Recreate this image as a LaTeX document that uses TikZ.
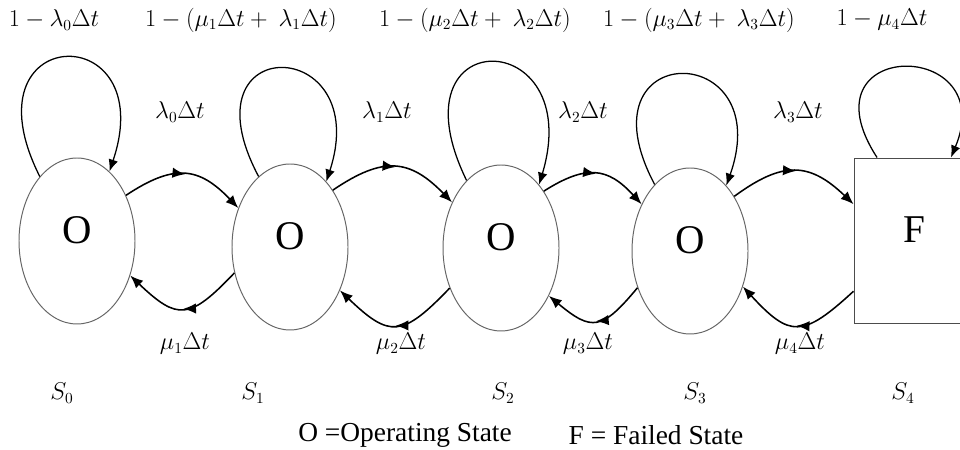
\documentclass[tikz,border=0pt]{standalone}
\usepackage{fontspec}
\setmainfont{Liberation Serif}
\usetikzlibrary{shapes.geometric, arrows.meta, decorations.markings}
\tikzstyle{opstate}=[ellipse, draw=black!60, line width=0.7pt, inner sep=0pt, minimum width=29mm, minimum height=41.5mm, text depth=5.5mm, font=\fontsize{29}{32}\selectfont]
\tikzstyle{failstate}=[rectangle, draw=black!70, line width=0.7pt, inner sep=0pt, minimum width=30mm, minimum height=41.25mm, text depth=5.5mm, font=\fontsize{28}{32}\selectfont]
\tikzstyle{selfloop}=[line width=0.9pt, -{Latex[length=3mm,width=2.4mm]}]
\tikzstyle{flow}=[line width=1.1pt, -{Latex[length=3.2mm,width=2.6mm]}, postaction={decorate}, decoration={markings, mark=at position 0.5 with {\arrow{Latex[length=3.2mm,width=2.6mm]}}}]
\tikzstyle{fwd}=[flow, bend left=40, looseness=1.3]
\tikzstyle{bwd}=[flow, bend left=45, looseness=1.6]
\tikzstyle{rate}=[inner sep=1pt, font=\fontsize{16}{18}\selectfont]
\tikzstyle{key}=[inner sep=1pt, font=\fontsize{19.5}{22}\selectfont]

\begin{document}
\begin{tikzpicture}[x=0.25mm, y=0.25mm]
    \useasboundingbox (0,0) rectangle (960,450);
    \coordinate (c0) at (77,209);
    \coordinate (c1) at (290,203);
    \coordinate (c2) at (501,202);
    \coordinate (c3) at (690,199);
    \coordinate (c4) at (914,209.5);
    \node[opstate] (s0) at (c0) {O};
    \node[opstate] (s1) at (c1) {O};
    \node[opstate] (s2) at (c2) {O};
    \node[opstate] (s3) at (c3) {O};
    \node[failstate] (s4) at (c4) {F};
    % self loops
    \draw[selfloop] (s0.120) .. controls +(-78,155) and +(52,155) .. (s0.65);
    \draw[selfloop] (s1.114) .. controls +(-78,147) and +(48,147) .. (s1.61);
    \draw[selfloop] (s2.117) .. controls +(-78,160) and +(48,160) .. (s2.59);
    \draw[selfloop] (s3.118) .. controls +(-78,147) and +(52,147) .. (s3.61);
    \draw[selfloop] (s4.114) .. controls +(-78,120) and +(50,120) .. (s4.66);
    % failures
    \draw[fwd] (s0.43) to (s1.143);
    \draw[fwd] (s1.53) to (s2.137);
    \draw[fwd] (s2.53) to (s3.136);
    \draw[fwd] (s3.51) to (s4.149);
    % repairs
    \draw[bwd] (s1.205) to (s0.327);
    \draw[bwd] (s2.218) to (s1.319);
    \draw[bwd] (s3.215) to (s2.315);
    \draw[bwd] (s4.220) to (s3.326);
    % rates
    \node[rate] (p0) at (54,430) {$1-\lambda_0\Delta t$};
    \node[rate] (p1) at (241,430) {$1-(\mu_1\Delta t+\ \lambda_1\Delta t)$};
    \node[rate] (p2) at (475,430) {$1-(\mu_2\Delta t+\ \lambda_2\Delta t)$};
    \node[rate] (p3) at (699,430) {$1-(\mu_3\Delta t+\ \lambda_3\Delta t)$};
    \node[rate] (p4) at (882,430) {$1-\mu_4\Delta t$};
    \node[rate] (l0) at (180,338) {$\lambda_0\Delta t$};
    \node[rate] (l1) at (387,338) {$\lambda_1\Delta t$};
    \node[rate] (l2) at (583,338) {$\lambda_2\Delta t$};
    \node[rate] (l3) at (798,338) {$\lambda_3\Delta t$};
    \node[rate] (m1) at (185,106) {$\mu_1\Delta t$};
    \node[rate] (m2) at (401,106) {$\mu_2\Delta t$};
    \node[rate] (m3) at (588,106) {$\mu_3\Delta t$};
    \node[rate] (m4) at (800,106) {$\mu_4\Delta t$};
    \node[rate] (n0) at (62,57) {$S_0$};
    \node[rate] (n1) at (253,57) {$S_1$};
    \node[rate] (n2) at (503,57) {$S_2$};
    \node[rate] (n3) at (695,57) {$S_3$};
    \node[rate] (n4) at (903,57) {$S_4$};
    \node[key] (k0) at (405,15) {O =Operating State};
    \node[key] (k1) at (656,15) {F = Failed State};
\end{tikzpicture}
\end{document}
